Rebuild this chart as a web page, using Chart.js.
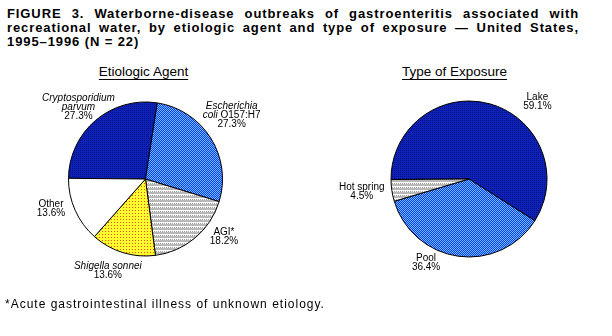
<!DOCTYPE html>
<html>
<head>
<meta charset="utf-8">
<script src="https://cdn.jsdelivr.net/npm/chart.js@4/dist/chart.umd.min.js"></script>
<style>
  html, body { margin: 0; padding: 0; background: #fff; }
  #fig { position: relative; width: 612px; height: 336px; overflow: hidden; font-family: "Liberation Sans", Arial, sans-serif; color: #000; }
  .hd { position: absolute; left: 7px; width: 572px; font-weight: bold; font-size: 13px; line-height: 14px; letter-spacing: 0.9px; white-space: nowrap; }
  .hd.j { text-align: justify; text-align-last: justify; white-space: normal; }
  .sub { position: absolute; top: 64px; font-size: 13.5px; line-height: 16px; text-decoration: underline; text-underline-offset: 3px; text-decoration-thickness: 1px; transform: translateX(-50%); white-space: nowrap; }
  .note { position: absolute; left: 5px; top: 297px; font-size: 12px; line-height: 14px; letter-spacing: 1px; white-space: nowrap; }
  canvas { position: absolute; top: 0; }
</style>
</head>
<body>
<div id="fig">
  <div class="hd j" style="top:7px">FIGURE 3. Waterborne-disease outbreaks of gastroenteritis associated with</div>
  <div class="hd j" style="top:21px">recreational water, by etiologic agent and type of exposure — United States,</div>
  <div class="hd" style="top:35px">1995–1996 (N = 22)</div>
  <div class="sub" style="left:143.5px">Etiologic Agent</div>
  <div class="sub" style="left:454.5px">Type of Exposure</div>
  <canvas id="agent" width="306" height="336" style="left:0"></canvas>
  <canvas id="exposure" width="306" height="336" style="left:306px"></canvas>
  <div class="note">*Acute gastrointestinal illness of unknown etiology.</div>
</div>
<script>
// Etiologic agent: share of the 22 outbreaks (%)
const agentNames = ['Cryptosporidium parvum', 'Escherichia coli O157:H7', 'AGI*', 'Shigella sonnei', 'Other'];
const agentShares = [27.3, 27.3, 18.2, 13.6, 13.6];
// Label text, '|' breaks a line, '~' toggles italics
const agentLabels = ['~Cryptosporidium~|~parvum~', '~Escherichia~|~coli~ O157:H7', 'AGI*', '~Shigella sonnei~', 'Other'];

// Type of exposure: share of the 22 outbreaks (%)
const exposureNames = ['Lake', 'Pool', 'Hot spring'];
const exposureShares = [59.1, 36.4, 4.5];
const exposureLabels = ['Lake', 'Pool', 'Hot spring'];

// Label placement around each slice: turn (deg) from the slice middle, distance from centre (px)
const agentPlacement = [[-2.8, 98], [-4.3, 107], [-13.4, 97.5], [5.3, 99], [6.7, 99]];
const exposurePlacement = [[25.6, 103], [19.3, 94], [1.7, 108]];

// Fill textures
function tile(w, h, paint) {
  const c = document.createElement('canvas');
  c.width = w; c.height = h;
  const g = c.getContext('2d');
  paint(g);
  return g.createPattern(c, 'repeat');
}
const navy = tile(2, 2, g => {
  g.fillStyle = '#0E22B4'; g.fillRect(0, 0, 2, 2);
  g.fillStyle = '#041090'; g.fillRect(0, 0, 1, 1);
});
const checker = tile(2, 2, g => {
  g.fillStyle = '#0A3CFF'; g.fillRect(0, 0, 2, 2);
  g.fillStyle = '#70BCFF'; g.fillRect(0, 0, 1, 1); g.fillRect(1, 1, 1, 1);
});
const stripes = tile(4, 4, g => {
  g.fillStyle = '#ffffff'; g.fillRect(0, 0, 4, 4);
  g.fillStyle = '#B8B8B8'; g.fillRect(0, 0, 4, 2);
  g.fillStyle = '#A0A0A0'; g.fillRect(0, 3, 1, 1); g.fillRect(2, 3, 1, 1);
});
const dots = tile(3, 3, g => {
  g.fillStyle = '#FFFF30'; g.fillRect(0, 0, 3, 3);
  g.fillStyle = '#FF4A00'; g.fillRect(0, 0, 1, 1);
});

const agentFills = [navy, checker, stripes, dots, '#ffffff'];
const exposureFills = [navy, checker, stripes];

// Draws the multi-line slice labels with their percentages
const sliceLabels = {
  id: 'sliceLabels',
  afterDatasetsDraw(chart, args, opts) {
    const ctx = chart.ctx;
    const meta = chart.getDatasetMeta(0);
    const values = chart.data.datasets[0].data;
    ctx.save();
    ctx.fillStyle = '#000';
    ctx.textBaseline = 'middle';
    meta.data.forEach((arc, i) => {
      const p = arc.getProps(['x', 'y', 'startAngle', 'endAngle']);
      const [turn, dist] = opts.placement[i];
      const a = (p.startAngle + p.endAngle) / 2 + turn * Math.PI / 180;
      const cx = p.x + Math.cos(a) * dist;
      const cy = p.y + Math.sin(a) * dist;
      const lines = opts.labels[i].split('|');
      lines.push(values[i].toFixed(1) + '%');
      const pitch = 9;
      lines.forEach((line, k) => {
        const ly = cy + (k - (lines.length - 1) / 2) * pitch;
        const runs = line.split('~').map((t, j) => ({ t, it: j % 2 === 1 })).filter(r => r.t.length);
        let total = 0;
        runs.forEach(r => {
          ctx.font = (r.it ? 'italic ' : '') + '10px "Liberation Sans", Arial, sans-serif';
          r.w = ctx.measureText(r.t).width;
          total += r.w;
        });
        let x = cx - total / 2;
        ctx.textAlign = 'left';
        runs.forEach(r => {
          ctx.font = (r.it ? 'italic ' : '') + '10px "Liberation Sans", Arial, sans-serif';
          ctx.fillText(r.t, x, ly);
          x += r.w;
        });
      });
    });
    ctx.restore();
  }
};

function pie(id, names, shares, fills, rotation, radius, padding, labels, placement) {
  return new Chart(document.getElementById(id), {
    type: 'pie',
    data: {
      labels: names,
      datasets: [{
        data: shares,
        backgroundColor: fills,
        borderColor: '#000',
        borderWidth: 1
      }]
    },
    options: {
      responsive: false,
      devicePixelRatio: 1,
      animation: false,
      rotation: rotation,
      radius: radius,
      layout: { padding: padding },
      plugins: {
        legend: { display: false },
        tooltip: { enabled: false },
        sliceLabels: { labels: labels, placement: placement }
      }
    },
    plugins: [sliceLabels]
  });
}

pie('agent', agentNames, agentShares, agentFills, -89.5, 77,
    { left: 40, right: 55, top: 80, bottom: 58 }, agentLabels, agentPlacement);
pie('exposure', exposureNames, exposureShares, exposureFills, -90.4, 78,
    { left: 60, right: 40, top: 80, bottom: 58 }, exposureLabels, exposurePlacement);
</script>
</body>
</html>
